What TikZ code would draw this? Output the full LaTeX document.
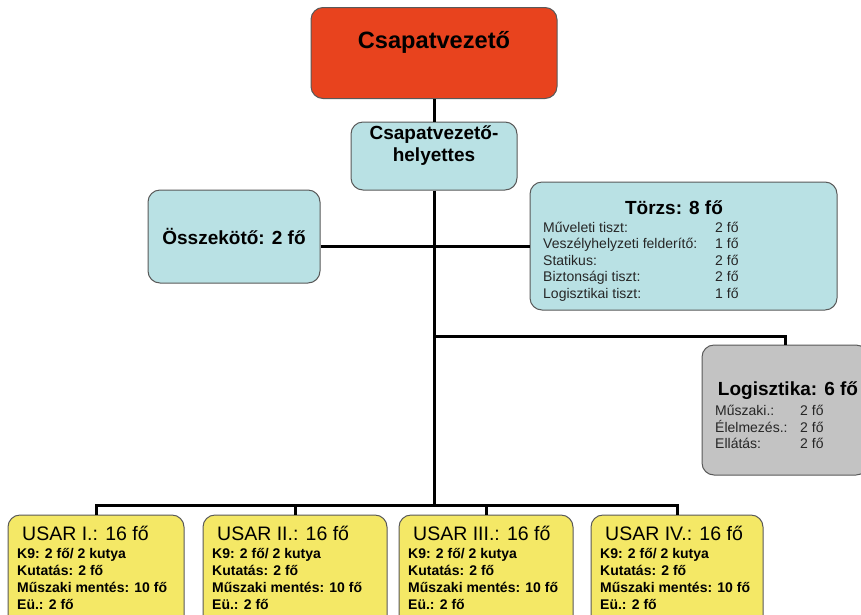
\documentclass[tikz,border=0pt]{standalone}
\usepackage{fontspec}
\setmainfont{Liberation Sans}
\usetikzlibrary{positioning}
\definecolor{chiefred}{HTML}{E8431E}
\definecolor{staffblue}{HTML}{B9E1E4}
\definecolor{loggray}{HTML}{C3C3C3}
\definecolor{usaryellow}{HTML}{F4E866}
\tikzset{
  box/.style={draw=black!65,line width=1pt,rounded corners=12pt,inner sep=0pt},
  link/.style={line width=3pt},
  big/.style={font=\fontsize{19}{22}\selectfont\bfseries,inner sep=0pt},
  small/.style={font=\fontsize{14}{16.5}\selectfont,text=black!85,inner sep=0pt},
  usarlist/.style={font=\fontsize{14}{17.3}\selectfont\bfseries,inner sep=0pt},
}

\begin{document}
\begin{tikzpicture}[x=1pt,y=-1pt]
\useasboundingbox (0,0) rectangle (861,614);
\clip (0,0) rectangle (861,614);
% leadership
\node[box,fill=chiefred,minimum width=246,minimum height=91] (vezeto) at (434,53) {};
\node[font=\fontsize{23.6}{28}\selectfont\bfseries,inner sep=0pt,anchor=base] (vezetocim) at (434,48) {Csapatvezető};
\node[box,fill=staffblue,minimum width=166,minimum height=68] (helyettes) at (434,156) {};
\node[big,align=center] (helyettescim) at (434,146) {Csapatvezető-\\helyettes};
% staff
\node[box,fill=staffblue,big,minimum width=172,minimum height=93] (osszekoto) at (234,236.5) {Összekötő: 2 fő};
\node[box,fill=staffblue,minimum width=307,minimum height=128] (torzs) at (683.5,246) {};
\node[big,anchor=base] (torzscim) at (674,214) {Törzs: 8 fő};
\node[small,anchor=base west] (torzslista) at (543,232) {\begin{tabular}[t]{@{}p{172pt}@{}l@{}}
Műveleti tiszt: & 2 fő\\
Veszélyhelyzeti felderítő: & 1 fő\\
Statikus: & 2 fő\\
Biztonsági tiszt: & 2 fő\\
Logisztikai tiszt: & 1 fő
\end{tabular}};
\node[box,fill=loggray,minimum width=166,minimum height=130] (logisztika) at (785,410) {};
\node[big,anchor=base] (logisztikacim) at (788,395) {Logisztika: 6 fő};
\node[small,anchor=base west] (logisztikalista) at (715,415) {\begin{tabular}[t]{@{}p{85pt}@{}l@{}}
Műszaki.: & 2 fő\\
Élelmezés.: & 2 fő\\
Ellátás: & 2 fő
\end{tabular}};
% connectors
\coordinate (bus) at (434,505);
\draw[link] (vezeto) -- (helyettes);
\draw[link] (helyettes.south) -- (bus);
\draw[link] (osszekoto.east |- torzs.west) -- (torzs.west);
\draw[link] (helyettes.south |- 0,336) -| (logisztika.north);
% USAR units
\foreach \n/\x/\w/\r in {usari/96/176/I, usarii/295/184/II, usariii/486/174/III, usariv/677/172/IV} {
  \node[box,fill=usaryellow,minimum width=\w,minimum height=120] (\n) at (\x,575) {};
  \node[font=\fontsize{19.5}{22}\selectfont,inner sep=0pt,anchor=base west] (\n-cim) at ({\x-\w/2+14},540) {USAR \r.: 16 fő};
  \node[usarlist,anchor=base west] (\n-lista) at ({\x-\w/2+9},558) {\begin{tabular}[t]{@{}l@{}}
K9: 2 fő/ 2 kutya\\Kutatás: 2 fő\\Műszaki mentés: 10 fő\\Eü.: 2 fő
\end{tabular}};
}
\draw[link] (usari.north) |- (usariv.north |- bus) -- (usariv.north);
\draw[link] (usarii.north |- bus) -- (usarii.north);
\draw[link] (usariii.north |- bus) -- (usariii.north);
\end{tikzpicture}
\end{document}
